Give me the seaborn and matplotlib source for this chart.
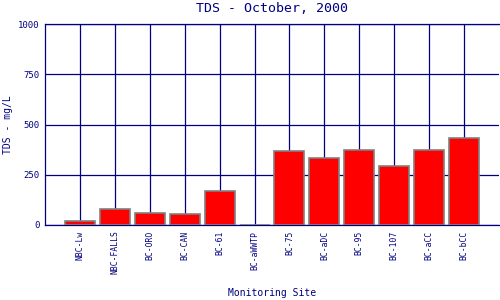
import matplotlib
matplotlib.use("Agg")
import matplotlib.pyplot as plt
import seaborn as sns
import pandas as pd

sites = ["NBC-Lw", "NBC-FALLS", "BC-ORO", "BC-CAN", "BC-61", "BC-aWWTP",
         "BC-75", "BC-aDC", "BC-95", "BC-107", "BC-aCC", "BC-bCC"]
tds = [20, 78, 58, 53, 168, 0, 367, 332, 372, 292, 372, 431]
yticks = [0, 250, 500, 750, 1000]

sns.set_style("white")
plt.rcParams['font.family'] = ['DejaVu Sans Mono']
navy = "#000080"

df = pd.DataFrame({"site": sites, "tds": tds})
fig = plt.figure(figsize=(5, 3), dpi=100)
ax = fig.add_axes([0.09, 0.25, 0.908, 0.67])

sns.barplot(data=df, x="site", y="tds", color="red", saturation=1,
            width=0.86, edgecolor="gray", linewidth=1.2, ax=ax, zorder=3)

ax.set_xlim(-1, len(sites))
ax.set_ylim(0, 1000)
ax.set_yticks(yticks)
ax.set_yticklabels([str(v) for v in yticks], fontsize=6.5, color=navy)
ax.set_xticks(range(len(sites)))
ax.set_xticklabels(sites, rotation=90, fontsize=5.8, color=navy)
ax.tick_params(axis="both", length=0, pad=4)
ax.grid(True, color=navy, linewidth=0.9, zorder=0)
ax.set_axisbelow(True)
for s in ["left", "bottom", "top"]:
    ax.spines[s].set_color(navy)
    ax.spines[s].set_linewidth(0.9)
ax.spines["right"].set_visible(False)

ax.set_title("TDS - October, 2000", fontsize=9.5, color=navy, pad=9)
ax.set_xlabel("Monitoring Site", fontsize=7, color=navy, va="center")
ax.xaxis.set_label_coords(0.5, -0.338)
ax.set_ylabel("TDS - mg/L", fontsize=7, color=navy, va="center")
ax.yaxis.set_label_coords(-0.081, 0.5)

fig.savefig("out.png", dpi=100, facecolor="white")
